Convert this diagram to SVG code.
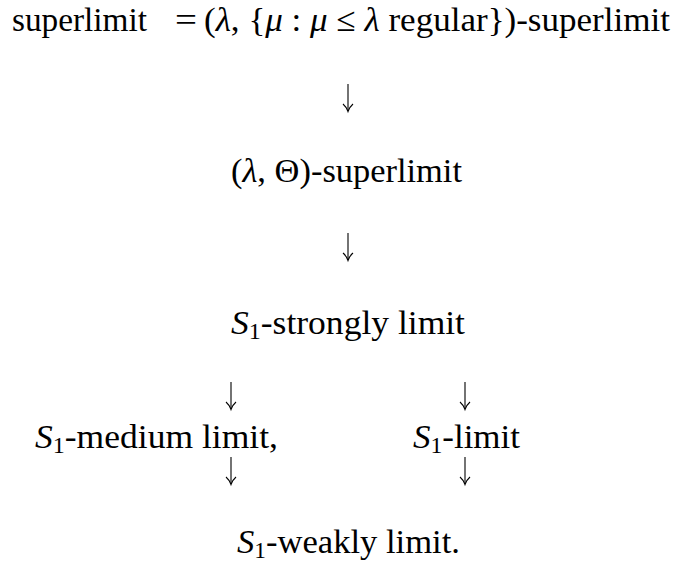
<svg xmlns="http://www.w3.org/2000/svg" width="683" height="565" viewBox="0 0 683 565">
<style>
.t{font-family:"Liberation Serif","DejaVu Serif","Times New Roman",serif;font-size:34px;fill:#000}
.m{font-style:italic}
.sub{font-size:23px}
.ar{stroke:#000;stroke-width:1.1;fill:none}
</style>
<defs>
<g id="arr">
<line class="ar" x1="0" y1="0" x2="0" y2="27"/>
<path class="ar" d="M-5,20 Q-1.5,23 0,27.5 Q1.5,23 5,20"/>
</g>
</defs>
<rect width="683" height="565" fill="#fff"/>
<g id="n1">
<text class="t" x="12" y="31" textLength="135" lengthAdjust="spacingAndGlyphs">superlimit</text>
<text class="t" x="175" y="31" textLength="22" lengthAdjust="spacingAndGlyphs">=</text>
<text class="t" x="204" y="31" textLength="466" lengthAdjust="spacingAndGlyphs">(<tspan class="m">λ</tspan>, {<tspan class="m">μ</tspan> : <tspan class="m">μ</tspan> ≤ <tspan class="m">λ</tspan> regular})-superlimit</text>
</g>
<g id="n2">
<text class="t" x="231" y="182" textLength="231" lengthAdjust="spacingAndGlyphs">(<tspan class="m">λ</tspan>, Θ)-superlimit</text>
</g>
<g id="n3">
<text class="t" x="231" y="334" textLength="234" lengthAdjust="spacingAndGlyphs"><tspan class="m">S</tspan><tspan class="sub" dy="5">1</tspan><tspan dy="-5">-strongly limit</tspan></text>
</g>
<g id="n4">
<text class="t" x="35" y="448" textLength="243" lengthAdjust="spacingAndGlyphs"><tspan class="m">S</tspan><tspan class="sub" dy="5">1</tspan><tspan dy="-5">-medium limit,</tspan></text>
</g>
<g id="n5">
<text class="t" x="413" y="448" textLength="107" lengthAdjust="spacingAndGlyphs"><tspan class="m">S</tspan><tspan class="sub" dy="5">1</tspan><tspan dy="-5">-limit</tspan></text>
</g>
<g id="n6">
<text class="t" x="237" y="553" textLength="223" lengthAdjust="spacingAndGlyphs"><tspan class="m">S</tspan><tspan class="sub" dy="5">1</tspan><tspan dy="-5">-weakly limit.</tspan></text>
</g>
<g id="connectors">
<use href="#arr" x="348" y="84"/>
<use href="#arr" x="348" y="233"/>
<use href="#arr" x="231" y="382"/>
<use href="#arr" x="465" y="382"/>
<use href="#arr" x="231" y="457"/>
<use href="#arr" x="465" y="457"/>
</g>
</svg>
